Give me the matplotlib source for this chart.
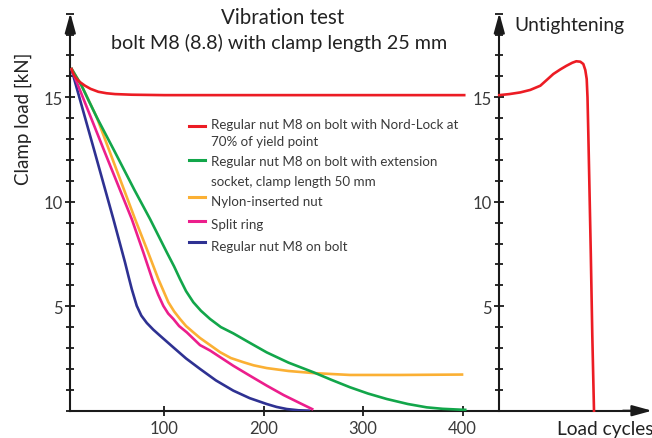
import matplotlib.pyplot as plt
from matplotlib.ticker import MultipleLocator

plt.rcParams['font.family'] = ['Lato', 'DejaVu Sans']

# Vibration test data (load cycles, clamp load kN)
red_x = [6.4, 8, 10, 13, 16, 20.4, 26, 33.8, 42, 50.6, 67.4, 100, 200, 300, 403]
red_y = [16.4, 16.2, 16.0, 15.82, 15.7, 15.55, 15.4, 15.26, 15.19, 15.15, 15.12, 15.1, 15.1, 15.1, 15.1]

green_x = [6.4, 17, 24, 32.2, 50, 70, 85.8, 95, 102.6, 110, 115.9, 122, 129.3, 137, 146.1, 157, 169.5,
           186, 203.1, 225, 250, 268, 286.9, 305, 323.8, 345, 364, 380, 397.5, 404]
green_y = [16.4, 15.55, 14.85, 14.04, 12.42, 10.57, 9.17, 8.3, 7.58, 6.9, 6.3, 5.72, 5.19, 4.78, 4.39,
           4.0, 3.7, 3.25, 2.79, 2.3, 1.84, 1.48, 1.12, 0.82, 0.56, 0.32, 0.16, 0.09, 0.05, 0.04]

orange_x = [6.4, 17, 24, 32.2, 50, 70.7, 82.5, 94.1, 104.2, 110, 115.9, 122, 129.3, 136, 149.4, 156.2,
            167, 179.6, 190, 203.1, 225, 250, 286.9, 337.2, 400.8]
orange_y = [16.4, 15.55, 14.85, 14.04, 11.79, 9.17, 7.74, 6.3, 5.19, 4.75, 4.39, 4.05, 3.75, 3.48, 3.03,
            2.8, 2.52, 2.32, 2.17, 2.04, 1.9, 1.8, 1.71, 1.71, 1.73]

pink_x = [6.4, 40, 67.4, 79, 89.1, 94, 99.1, 104, 109.2, 115, 122.7, 136, 146.1, 169.5, 186, 203.1, 220,
          237, 250]
pink_y = [16.4, 12.4, 9.17, 7.58, 6.14, 5.55, 5.02, 4.65, 4.39, 4.05, 3.75, 3.14, 2.88, 2.15, 1.68, 1.2,
          0.75, 0.35, 0.05]

blue_x = [6.4, 30, 48.9, 60.6, 64, 67.4, 72.4, 77, 82.5, 89, 95.8, 109.2, 122, 136, 152, 169.5, 186,
          203.1, 213, 223.2, 235, 246.7]
blue_y = [16.4, 12.4, 9.17, 7.1, 6.45, 5.82, 5.02, 4.55, 4.2, 3.88, 3.59, 3.03, 2.5, 2.0, 1.45, 0.96,
          0.6, 0.32, 0.18, 0.08, 0.02, 0.0]

# Untightening (relative cycle units)
untight_x = [0, 10, 21, 31, 41, 48, 54, 61, 67, 73, 77, 81, 84, 86, 87.4, 88.2, 89, 90, 91.5, 93, 94.7]
untight_y = [15.1, 15.15, 15.23, 15.35, 15.55, 15.85, 16.11, 16.33, 16.5, 16.65, 16.72, 16.7, 16.59, 16.3,
             15.87, 15.0, 13.3, 11.0, 7.5, 3.6, 0.0]

legend_labels = [
    ['Regular nut M8 on bolt with Nord-Lock at', '70% of yield point'],
    ['Regular nut M8 on bolt with extension', 'socket, clamp length 50 mm'],
    ['Nylon-inserted nut'],
    ['Split ring'],
    ['Regular nut M8 on bolt'],
]

RED = '#ec1c24'
GREEN = '#12a64a'
ORANGE = '#fbb034'
PINK = '#ec1e8c'
BLUE = '#2e3192'
AX = '#1a1a1a'
TXT = '#3a3a3a'

W, H = 652, 439
fig = plt.figure(figsize=(W / 100, H / 100), dpi=100)

def fx(px):
    return px / W

def fy(py):
    return 1 - py / H

ymax = 19.03
ax = fig.add_axes([fx(70.3), fy(411.7), (652 - 70.3) / W, (411.7 - 14) / H])
ax.set_xlim(5.6, 590.5)
ax.set_ylim(0, ymax)

ax2 = fig.add_axes([fx(499.3), fy(411.7), (652 - 499.3) / W, (411.7 - 14) / H])
ax2.set_xlim(0, 152.7)
ax2.set_ylim(0, ymax)
ax2.patch.set_alpha(0)

for a in (ax, ax2):
    for s in ('top', 'right'):
        a.spines[s].set_visible(False)
    a.spines['left'].set_color(AX)
    a.spines['left'].set_linewidth(1.5)
    a.spines['left'].set_bounds(0, 18.4)
    a.yaxis.set_major_locator(MultipleLocator(5))
    a.yaxis.set_minor_locator(MultipleLocator(1))
    a.tick_params(axis='y', which='major', direction='inout', length=7, width=1.3, color=AX,
                  labelsize=12, labelcolor=TXT, pad=2)
    a.tick_params(axis='y', which='minor', direction='inout', length=6, width=1.3, color=AX)
    a.set_yticks([5, 10, 15])
    a.annotate('', xy=(0, 1), xytext=(0, 0.95), xycoords='axes fraction',
               arrowprops=dict(arrowstyle='-|>,head_length=0.8,head_width=0.22', color=AX,
                               lw=1.5, shrinkA=0, shrinkB=0, mutation_scale=15))

ax2.spines['bottom'].set_visible(False)
ax2.set_xticks([])

ax.spines['bottom'].set_color(AX)
ax.spines['bottom'].set_linewidth(1.5)
ax.spines['bottom'].set_bounds(5.6, 575)
ax.set_xticks([100, 200, 300, 400])
ax.tick_params(axis='x', direction='inout', length=7, width=1.3, color=AX, labelsize=12,
               labelcolor=TXT, pad=3)
ax.annotate('', xy=(1, 0), xytext=(0.95, 0), xycoords='axes fraction',
            arrowprops=dict(arrowstyle='-|>,head_length=0.8,head_width=0.22', color=AX,
                            lw=1.5, shrinkA=0, shrinkB=0, mutation_scale=15))

# curves
lw = 1.9
ax.plot(blue_x, blue_y, color=BLUE, lw=lw, solid_capstyle='butt', solid_joinstyle='round', zorder=3)
ax.plot(pink_x, pink_y, color=PINK, lw=lw, solid_capstyle='butt', solid_joinstyle='round', zorder=3)
ax.plot(orange_x, orange_y, color=ORANGE, lw=lw, solid_capstyle='butt', solid_joinstyle='round', zorder=3)
ax.plot(green_x, green_y, color=GREEN, lw=lw, solid_capstyle='butt', solid_joinstyle='round', zorder=3)
ax.plot(red_x, red_y, color=RED, lw=lw, solid_capstyle='butt', solid_joinstyle='round', zorder=3)
ax2.plot(untight_x, untight_y, color=RED, lw=lw, solid_joinstyle='round', clip_on=False, zorder=3)

# legend drawn by hand
legend_colors = [RED, GREEN, ORANGE, PINK, BLUE]
key_py = [126.7, 160.7, 198, 221.7, 242.7]
text_py = [[125, 141.7], [161.7, 181.7], [201.7], [225], [246.7]]
for col, kp, tps, labels in zip(legend_colors, key_py, text_py, legend_labels):
    fig.add_artist(plt.Line2D([fx(189), fx(205)], [fy(kp), fy(kp)], color=col, lw=2.2))
    for tp, lab in zip(tps, labels):
        fig.text(fx(210.5), fy(tp), lab, fontsize=9.6, color=TXT, ha='left', va='center')

# titles and labels
fig.text(fx(282.5), fy(18), 'Vibration test', fontsize=14.8, color='#222222', ha='center', va='center')
fig.text(fx(279.5), fy(43), 'bolt M8 (8.8) with clamp length 25 mm', fontsize=14.2, color='#222222',
         ha='center', va='center')
fig.text(fx(514), fy(26), 'Untightening', fontsize=13.8, color='#222222', ha='left', va='center')
fig.text(fx(557), fy(430), 'Load cycles', fontsize=13.8, color='#222222', ha='left', va='center')
fig.text(fx(23), fy(119), 'Clamp load [kN]', fontsize=13.5, color='#222222', ha='center', va='center',
         rotation=90)

fig.savefig('out.png', dpi=100)
